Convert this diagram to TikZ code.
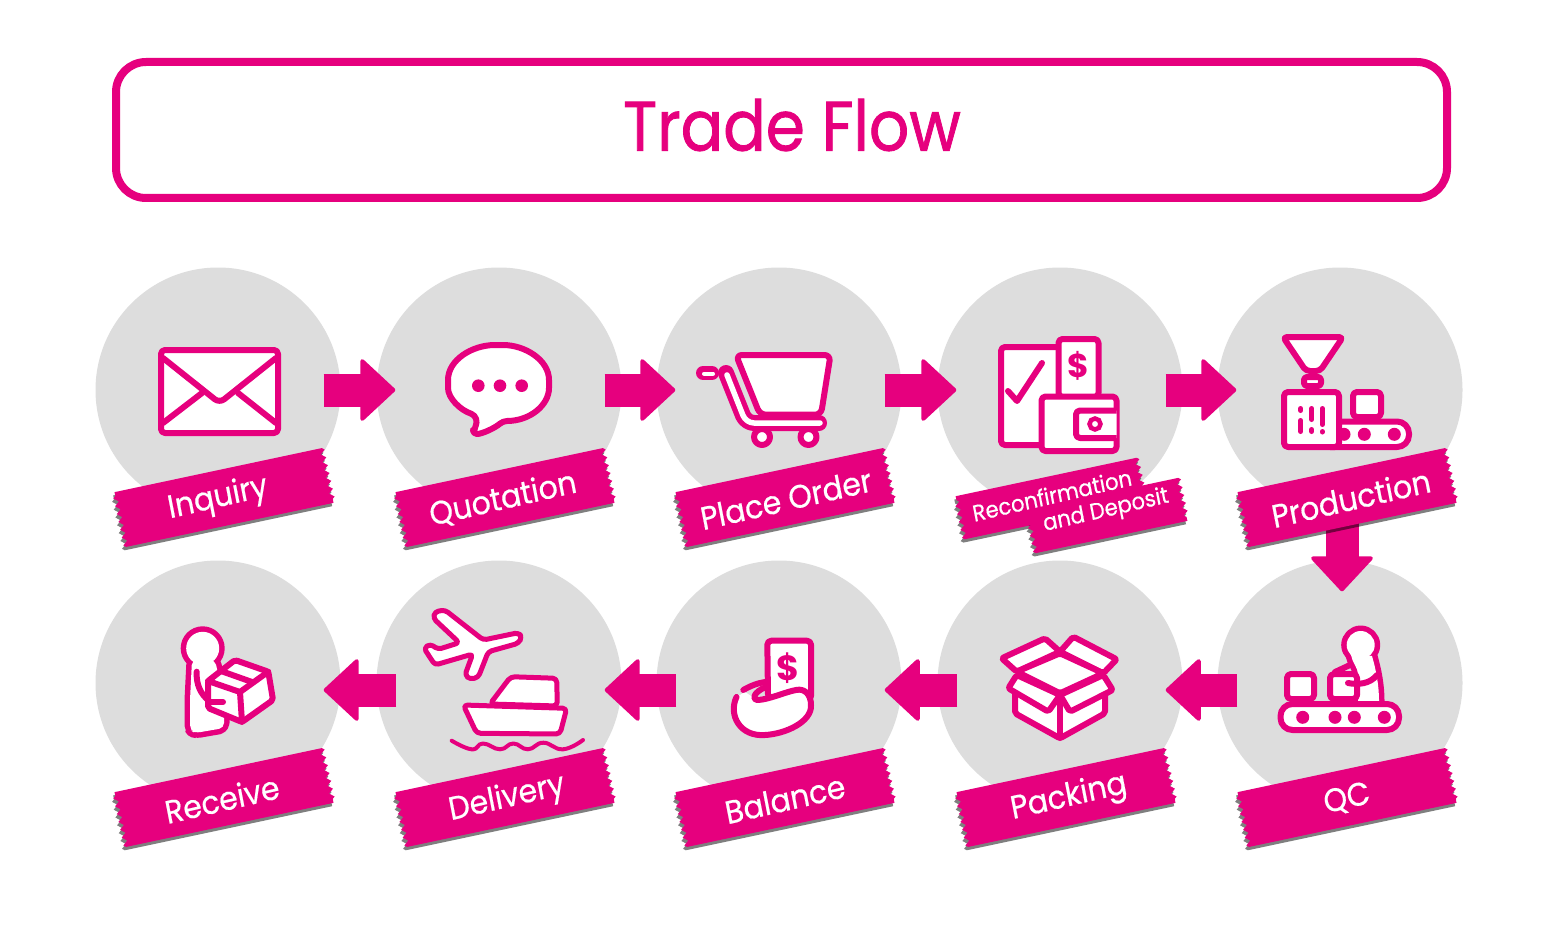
\documentclass[tikz,border=0pt]{standalone}
\usepackage{fontspec}
\setmainfont{Poppins}
\newfontfamily\titlefont{Poppins}[FakeBold=1.2]
\newfontfamily\tapefont{Poppins}[FakeBold=0.5]
\usetikzlibrary{arrows.meta,decorations.pathmorphing}
\definecolor{tradepink}{HTML}{E6007E}
\definecolor{discgrey}{HTML}{DDDDDD}

\begin{document}
\begin{tikzpicture}[x=1pt,y=-1pt,
 headbox/.style={draw=tradepink,line width=8pt,rounded corners=30pt,fill=white,minimum width=1331pt,minimum height=136pt,inner sep=0pt},
 headtext/.style={text=tradepink,font=\titlefont\fontsize{70}{70}\selectfont,xscale=.9},
 disc/.style={circle,fill=discgrey,minimum size=245pt,inner sep=0pt},
 flow/.style={-{Triangle[length=36pt,width=66pt,line width=4pt,round]},tradepink,line width=33pt},
 icon/.style={draw=tradepink,fill=white,line width=6pt,line join=round,rounded corners=4pt},
 stroke/.style={draw=tradepink,line width=6pt,line cap=round,line join=round},
 halo/.style={fill=tradepink,draw=tradepink,line width=11pt,line join=round},
 serrate/.style={decoration={zigzag,segment length=8pt,amplitude=2.4pt}},
 tapetext/.style={text=white,transform shape,inner sep=0pt,font=\tapefont\fontsize{32.5}{33}\selectfont,xscale=.92},
 smalltext/.style={tapetext,rotate=12,font=\tapefont\fontsize{23}{23}\selectfont},
 pics/tapeface/.style n args={2}{code={
  \fill[tradepink] (-#1/2,-#2) -- (#1/2,-#2) decorate[serrate] {-- (#1/2,#2)}
   -- (-#1/2,#2) decorate[serrate] {-- (-#1/2,-#2)} -- cycle;
 }},
 pics/tapeshade/.style n args={2}{code={
  \fill[black,opacity=.5,shift={(-2,3)}] (-#1/2,-#2) -- (#1/2,-#2) decorate[serrate] {-- (#1/2,#2)}
   -- (-#1/2,#2) decorate[serrate] {-- (-#1/2,-#2)} -- cycle;
 }}]

\useasboundingbox (0,0) rectangle (1563,928);
\fill[white] (0,0) rectangle (1563,928);

% Title bar
\node[headbox] (titlebar) at (781.5,130) {};
\node[headtext] (titletext) at (792,125) {Trade Flow};

% Step discs
\node[disc] (inquiry) at (218,390) {};
\node[disc] (quotation) at (499,390) {};
\node[disc] (placeorder) at (779,390) {};
\node[disc] (deposit) at (1060,390) {};
\node[disc] (production) at (1340,390) {};
\node[disc] (receive) at (218,683) {};
\node[disc] (delivery) at (499,683) {};
\node[disc] (balance) at (779,683) {};
\node[disc] (packing) at (1060,683) {};
\node[disc] (qc) at (1340,683) {};

% Arrows between the steps
\draw[flow,shorten <=-17pt,shorten >=-19pt] (inquiry.east) -- (quotation.west);
\draw[flow,shorten <=-17pt,shorten >=-19pt] (quotation.east) -- (placeorder.west);
\draw[flow,shorten <=-17pt,shorten >=-19pt] (placeorder.east) -- (deposit.west);
\draw[flow,shorten <=-17pt,shorten >=-19pt] (deposit.east) -- (production.west);
\draw[flow,shorten >=-31pt] ([xshift=2pt]production.south) -- ([xshift=2pt]qc.north);
\draw[flow,shorten <=-20pt,shorten >=-17pt] ([yshift=-7pt]qc.west) -- ([yshift=-7pt]packing.east);
\draw[flow,shorten <=-20pt,shorten >=-17pt] ([yshift=-7pt]packing.west) -- ([yshift=-7pt]balance.east);
\draw[flow,shorten <=-20pt,shorten >=-17pt] ([yshift=-7pt]balance.west) -- ([yshift=-7pt]delivery.east);
\draw[flow,shorten <=-20pt,shorten >=-17pt] ([yshift=-7pt]delivery.west) -- ([yshift=-7pt]receive.east);

% Envelope
\draw[icon] (161,350) rectangle (278,433);
\draw[stroke,rounded corners=6pt] (163,358) -- (219.5,403) -- (276,358);
\draw[stroke] (163,423) -- (202,393);
\draw[stroke] (276,423) -- (238,393);

% Speech bubble
\draw[icon] (473,434) .. controls (482,434) and (495,428) .. (503,421)
 .. controls (530,421) and (549,405) .. (549,384) .. controls (549,360) and (525,345) .. (499,345)
 .. controls (472,345) and (448,360) .. (448,384) .. controls (448,398) and (460,410) .. (475,415)
 .. controls (477,422) .. (473,434) -- cycle;
\fill[tradepink] (478.3,385.7) circle (6.3pt) (500,385.7) circle (6.3pt) (521.7,385.7) circle (6.3pt);

% Cart
\draw[stroke,line width=14pt] (703,373) -- (712,373);
\draw[stroke,white,line width=4pt] (704,373.7) -- (713,373.7);
\draw[icon,fill=white] (762,437) circle (8pt) (808.5,437) circle (8pt);
\draw[stroke,line width=16pt,rounded corners=8pt] (726,373) -- (746,423) -- (819,423);
\draw[stroke,white,line width=5.5pt,rounded corners=8pt] (727,375) -- (746,423) -- (820,423);
\draw[icon,rounded corners=6pt] (736,355) -- (830.5,355) -- (821,414.7) -- (760,414.7) -- cycle;

% Documents, receipt and wallet
\draw[icon] (1001,347) rectangle (1062,445);
\draw[stroke] (1008,391) -- (1017,401) -- (1042,363);
\draw[icon] (1058.5,339) rectangle (1098.5,397);
\node[text=tradepink,font=\bfseries\fontsize{33}{33}\selectfont] (depositsign) at (1078,366) {\$};
\draw[icon] (1041.5,396.5) rectangle (1116.5,451);
\draw[icon] (1116.5,410.5) -- (1076,410.5) -- (1076,438) -- (1116.5,438);
\draw[draw=tradepink,fill=white,line width=4.5pt] (1095,424) circle (5.5pt);

% Funnel, machine and conveyor
\draw[icon] (1283,337) -- (1343,337) -- (1320,371) -- (1306,371) -- cycle;
\draw[icon,rounded corners=3pt] (1304,377) rectangle (1321,386);
\draw[icon,rounded corners=12pt] (1330,421.5) -- (1409,421.5) -- (1409,447) -- (1330,447);
\fill[tradepink] (1344,434.3) circle (6.5pt) (1364.3,434.3) circle (6.5pt) (1394.3,434.3) circle (6.5pt);
\draw[icon] (1353,392) rectangle (1381,417);
\draw[icon] (1284,392) rectangle (1339,447);
\draw[stroke,line width=5pt] (1300.7,408.5) -- (1300.7,410.5) (1300.7,420.5) -- (1300.7,431.5)
 (1311.7,408.5) -- (1311.7,419.5) (1311.7,429.5) -- (1311.7,431.5)
 (1322.3,408.5) -- (1322.3,424.5) (1322.3,431.5) -- (1322.3,432);

% Person at the conveyor
\draw[halo] (1360.7,645) circle (14pt);
\draw[halo] (1351,655) .. controls (1352,662) and (1358,668) .. (1358,674) -- (1358,701) -- (1379,701)
 .. controls (1379,685) and (1376,670) .. (1372,656) -- cycle;
\fill[white] (1360.7,645) circle (14pt);
\fill[white] (1351,655) .. controls (1352,662) and (1358,668) .. (1358,674) -- (1358,701) -- (1379,701)
 .. controls (1379,685) and (1376,670) .. (1372,656) -- cycle;
\draw[stroke] (1350,665) -- (1335,672);
\draw[icon] (1287,674) rectangle (1314,699);
\draw[icon] (1330,674) rectangle (1357,699);
\draw[stroke] (1348,683) .. controls (1358,685) and (1370,684) .. (1377,675);
\draw[icon,rounded corners=12pt] (1280.5,704) rectangle (1399,730);
\fill[tradepink] (1302.7,717.3) circle (6.5pt) (1335,717.3) circle (6.5pt) (1354.3,717.3) circle (6.5pt) (1384.3,717.3) circle (6.5pt);

% Open box
\draw[icon,rounded corners=2pt] (1015,690) -- (1015,713.3) -- (1060,738.3) -- (1105,713.3) -- (1105,690) -- cycle;
\draw[stroke] (1060,695) -- (1060,738);
\draw[icon,rounded corners=2pt] (1016.7,675) -- (1008.3,688.3) -- (1048.3,711.7) -- (1060,695) -- cycle;
\draw[icon,rounded corners=2pt] (1103.3,675) -- (1112.7,690) -- (1070,711.7) -- (1060,695) -- cycle;
\draw[icon,rounded corners=2pt] (1016.7,671.7) -- (1001.7,658.3) -- (1045,638.3) -- (1060,651.7) -- cycle;
\draw[icon,rounded corners=2pt] (1060,651.7) -- (1073.3,636.7) -- (1116.7,659.3) -- (1103.3,673.3) -- cycle;
\draw[icon,rounded corners=2pt] (1060,653.3) -- (1103.3,673.3) -- (1060,693.3) -- (1016.7,671.7) -- cycle;

% Banknote in a hand
\draw[icon] (768,698) -- (767.3,640.7) -- (811,640.7) -- (811,700) -- cycle;
\node[text=tradepink,font=\bfseries\fontsize{35}{35}\selectfont] (balancesign) at (788.3,668) {\$};
\fill[white] (736.5,697) .. controls (728,715) and (740,737) .. (765,735) .. controls (785,734) and (812,722) .. (811,705)
 .. controls (811,695) and (805,688) .. (796,690) .. controls (785,692) and (768,700) .. (757,700) -- (745,692) -- cycle;
\draw[stroke] (736.5,697) .. controls (728,715) and (740,737) .. (765,735) .. controls (785,734) and (812,722) .. (811,705)
 .. controls (811,695) and (805,688) .. (796,690) .. controls (785,692) and (768,700) .. (757,700)
 .. controls (752,700) and (753,692) .. (766,687);
\draw[stroke] (743.3,690) .. controls (750,686) and (758,683) .. (765,682);

% Aeroplane and ship
\draw[icon,line width=5pt,rounded corners=3.5pt] (522,637) -- (518.3,632.7) -- (483.3,640) -- (445,610) -- (435,611.7) -- (433.3,618.3)
 -- (459.3,642.7) -- (438.3,649.3) -- (430,644) -- (424,648.3) -- (435,665) -- (472.7,654) -- (465,675) -- (470,679.3)
 -- (478.3,677.3) -- (488.3,651.7) -- (518.3,643.3) -- cycle;
\draw[icon,line width=5pt] (490,704) -- (510.7,676.7) -- (556.7,678.3) -- (557.3,706) -- cycle;
\draw[icon,line width=5pt] (463.3,705) -- (566.7,708.3) -- (560,734) -- (476.7,733.3) -- cycle;
\draw[stroke,line width=4pt] plot[smooth,tension=.8] coordinates {(451.7,740.7) (471.7,749.3) (483,743.5) (500,749.3)
 (513.3,743.5) (528,749.3) (543.3,742.7) (563,749.3) (583,740)};

% Person carrying a parcel
\draw[halo] (202.7,648.3) circle (16.5pt);
\draw[halo,rounded corners=5pt] (192,660) -- (190,700) -- (190,730) -- (195,733) -- (224,728) -- (224,700) -- (215,660) -- cycle;
\fill[white] (202.7,648.3) circle (16.5pt);
\fill[white,rounded corners=5pt] (192,660) -- (190,700) -- (190,730) -- (195,733) -- (224,728) -- (224,700) -- (215,660) -- cycle;
\draw[stroke] (196.7,671.7) .. controls (196,685) and (201,694) .. (208,700);
\draw[icon,rounded corners=2pt] (208,681) -- (235,660) -- (268.3,671.7) -- (273,700) -- (242,722) -- (208,708) -- cycle;
\draw[stroke] (208,681) -- (240,692) -- (268.3,671.7);
\draw[stroke] (240,692) -- (242,722);
\draw[stroke] (221,671) -- (252,682);
\draw[stroke] (210,702) -- (223,702);

% Tapes behind the step labels
\pic[rotate=12] at (224,497.5) {tapeshade={212}{28}}; \pic[rotate=12] at (224,497.5) {tapeface={212}{28}};
\pic[rotate=12] at (505,497.5) {tapeshade={212}{28}}; \pic[rotate=12] at (505,497.5) {tapeface={212}{28}};
\pic[rotate=12] at (785,497.5) {tapeshade={212}{28}}; \pic[rotate=12] at (785,497.5) {tapeface={212}{28}};
\pic[rotate=12] at (1347,497.5) {tapeshade={212}{28}}; \pic[rotate=12] at (1347,497.5) {tapeface={212}{28}};
\pic[rotate=12] at (224,797.5) {tapeshade={212}{28}}; \pic[rotate=12] at (224,797.5) {tapeface={212}{28}};
\pic[rotate=12] at (505,797.5) {tapeshade={212}{28}}; \pic[rotate=12] at (505,797.5) {tapeface={212}{28}};
\pic[rotate=12] at (785,797.5) {tapeshade={212}{28}}; \pic[rotate=12] at (785,797.5) {tapeface={212}{28}};
\pic[rotate=12] at (1066,797.5) {tapeshade={212}{28}}; \pic[rotate=12] at (1066,797.5) {tapeface={212}{28}};
\pic[rotate=12] at (1347,797.5) {tapeshade={212}{28}}; \pic[rotate=12] at (1347,797.5) {tapeface={212}{28}};

% Two-part tape: both shades go first so the lower tape leaves no mark on the upper one
\pic[rotate=12] at (1050.7,498.5) {tapeshade={185}{22}};
\pic[rotate=12] at (1107,515.5) {tapeshade={155}{22}};
\pic[rotate=12] at (1050.7,498.5) {tapeface={185}{22}};
\pic[rotate=12] at (1107,515.5) {tapeface={155}{22}};

% Step labels
\node[tapetext,rotate=12] (inqtext) at (218,499) {Inquiry};
\node[tapetext,rotate=12] (quotext) at (503,499) {Quotation};
\node[tapetext,rotate=12] (ordtext) at (786,499) {Place Order};
\node[smalltext] (rectext) at (1052,495) {Reconfirmation};
\node[smalltext] (deptext) at (1106,511) {and Deposit};
\node[tapetext,rotate=12] (protext) at (1351,498) {Production};
\node[tapetext,rotate=12] (rcvtext) at (222,799) {Receive};
\node[tapetext,rotate=12] (deltext) at (507,799) {Delivery};
\node[tapetext,rotate=12] (baltext) at (785,799) {Balance};
\node[tapetext,rotate=12] (pactext) at (1069,798) {Packing};
\node[tapetext,rotate=12] (qctext) at (1347,799) {QC};
\end{tikzpicture}
\end{document}
